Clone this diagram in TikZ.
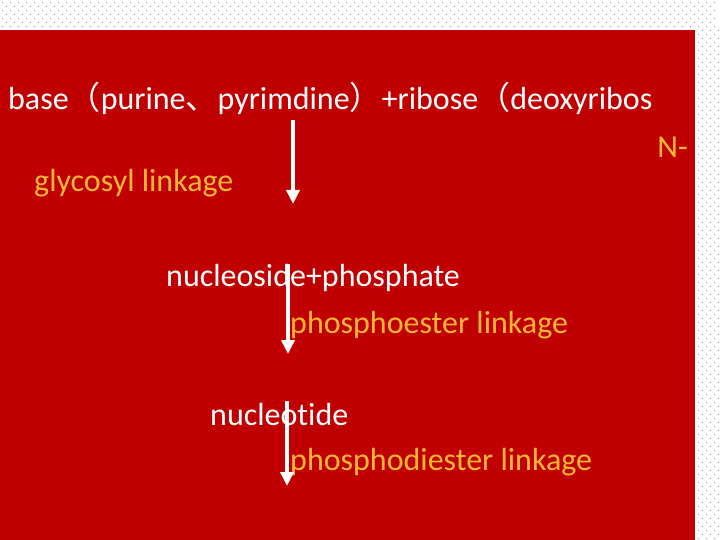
\documentclass[tikz,border=0pt]{standalone}
\usepackage{fontspec}
\setmainfont{Carlito}[Ligatures=NoCommon]
\newfontfamily\cjk{Noto Sans CJK SC}
\usetikzlibrary{arrows.meta}
\definecolor{slidered}{HTML}{C00000}
\definecolor{linkorange}{HTML}{FFB732}
\definecolor{dotgray}{HTML}{8C8C8C}

\begin{document}
\begin{tikzpicture}[x=1pt,y=-1pt,
        chem/.style={anchor=base west,inner sep=0pt,text=white,
                     font=\fontsize{32}{38}\selectfont},
        bond/.style={chem,text=linkorange},
        react/.style={draw=white,line width=4pt,
                      -{Triangle[width=13pt,length=14pt]}}]

        \useasboundingbox (0,0) rectangle (720,540);
        % dotted paper behind the slide
        \foreach \y in {2,10,...,26} \foreach \x in {2,10,...,718}
                \fill[dotgray] (\x,\y) rectangle ++(1,1);
        \foreach \y in {6,14,...,26} \foreach \x in {6,14,...,714}
                \fill[dotgray] (\x,\y) rectangle ++(1,1);
        \foreach \y in {34,42,...,538} \foreach \x in {698,706,714}
                \fill[dotgray] (\x,\y) rectangle ++(1,1);
        \foreach \y in {30,38,...,538} \foreach \x in {702,710,718}
                \fill[dotgray] (\x,\y) rectangle ++(1,1);
        \fill[slidered] (0,30) rectangle (695,540);

        \node[chem] (sources) at (8,110)
                {base{\cjk （}purine{\cjk 、}pyrimdine{\cjk ）}+ribose{\cjk （}deoxyribos};
        \node[bond,anchor=base east] (nprefix) at (688,158) {N-};
        \node[bond] (glyco) at (34,192) {glycosyl linkage};
        \node[chem] (nucleoside) at (166,286) {nucleoside+phosphate};
        \node[bond] (ester) at (290,333) {phosphoester linkage};
        \node[chem] (nucleotide) at (210,425) {nucleotide};
        \node[bond] (diester) at (290,470) {phosphodiester linkage};

        \coordinate (s1) at (293,120);
        \coordinate (e1) at (293,204);
        \coordinate (s2) at (288,264);
        \coordinate (e2) at (288,354);
        \coordinate (s3) at (287,401);
        \coordinate (e3) at (287,486);

        \draw[react] (s1) -- (e1);
        \draw[react] (s2) -- (e2);
        \draw[react] (s3) -- (e3);
\end{tikzpicture}
\end{document}
